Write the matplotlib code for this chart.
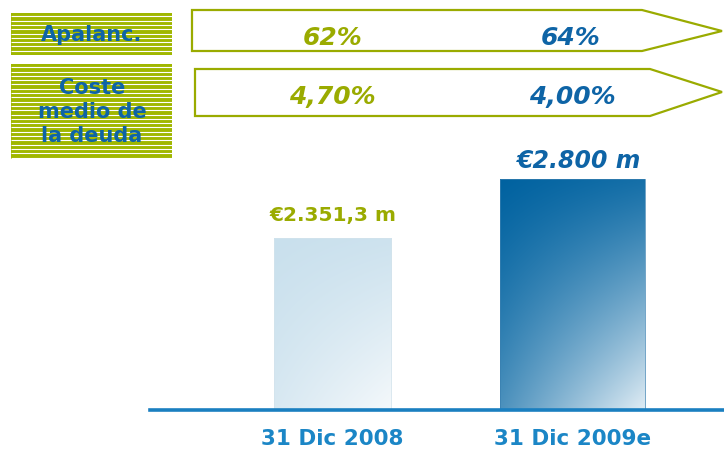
import numpy as np
import matplotlib
matplotlib.use("Agg")
import matplotlib.pyplot as plt
from matplotlib.patches import Polygon, Rectangle
from matplotlib.colors import to_rgb

# ---------------- data ----------------
categories = ["31 Dic 2008", "31 Dic 2009e"]
debt_values = [2351.3, 2800.0]
debt_labels = ["€2.351,3 m", "€2.800 m"]
row_titles = ["Apalanc.", "Coste\nmedio de\nla deuda"]
leverage = ["62%", "64%"]
avg_cost = ["4,70%", "4,00%"]

GREEN = "#9aab00"
STRIPE = "#a0b700"
BLUE = "#0e64a6"
XBLUE = "#1b86c6"

W, H = 724, 450
fig = plt.figure(figsize=(W / 100, H / 100), dpi=100)
fig.patch.set_facecolor("white")

# overlay axes in pixel coordinates (decoration)
ov = fig.add_axes([0, 0, 1, 1], zorder=0)
ov.set_xlim(0, W)
ov.set_ylim(H, 0)
ov.axis("off")

# bar axes
left_px, right_px, base_px, top_px = 150, 724, 410, 150
ax = fig.add_axes([left_px / W, (H - base_px) / H, (right_px - left_px) / W,
                   (base_px - top_px) / H], zorder=1)
ax.patch.set_alpha(0)
ax.set_xlim(-0.760, 1.631)
ylo, yhi = 1043, 3020
ax.set_ylim(ylo, yhi)
for s in ["top", "right", "left"]:
    ax.spines[s].set_visible(False)
ax.spines["bottom"].set_color("#1a7fc0")
ax.spines["bottom"].set_linewidth(2.6)
ax.spines["bottom"].set_zorder(5)
ax.set_yticks([])
xs = np.arange(len(categories))
ax.set_xticks(xs, categories)
ax.tick_params(axis="x", length=0, pad=14)
for lab in ax.get_xticklabels():
    lab.set_fontsize(15.5)
    lab.set_fontweight("bold")
    lab.set_color(XBLUE)

widths = [0.49, 0.60]
bars = ax.bar(xs, debt_values, width=widths, color="none", edgecolor="none", zorder=2)


def grad(light, dark, n=240):
    u = np.linspace(0, 1, n)[None, :]
    v = np.linspace(1, 0, n)[:, None]
    A = 0.32 * (1 - v) ** 1.2
    B = 0.09 + 0.54 * (1 - v) ** 1.1
    d = np.clip(1 - A - B * u, 0, 1)[..., None]
    l = np.array(to_rgb(light))
    k = np.array(to_rgb(dark))
    return l * (1 - d) + k * d


styles = [("#f7fafc", "#c9e0ed", "#d3e3ec"), ("#ecf4f9", "#0062a0", "#3a80b0")]
for b, (lc, dc, ec) in zip(bars, styles):
    x0 = b.get_x()
    x1 = x0 + b.get_width()
    im = ax.imshow(grad(lc, dc), extent=[x0, x1, ylo, b.get_height()],
                   aspect="auto", zorder=2, interpolation="bilinear")
    im.set_clip_path(b)
    ax.add_patch(Rectangle((x0, ylo), b.get_width(), b.get_height() - ylo,
                           fill=False, edgecolor=ec, lw=0.5, zorder=3))
ax.set_xlim(-0.760, 1.631)
ax.set_ylim(ylo, yhi)

label_cfg = [(GREEN, "normal", 14.5, 0, 9.5), (BLUE, "italic", 17, 5, 4)]
for b, txt, (c, st, fs, dx, off) in zip(bars, debt_labels, label_cfg):
    ax.annotate(txt, (b.get_x() + b.get_width() / 2, b.get_height()),
                xytext=(dx, off), textcoords="offset points", ha="center",
                va="bottom", color=c, fontsize=fs, fontweight="bold",
                fontstyle=st, zorder=4)

# ------------- top rows -------------
def stripes(x0, y0, x1, y1):
    ov.add_patch(Rectangle((x0, y0), x1 - x0, y1 - y0, facecolor=STRIPE,
                           edgecolor="none"))
    for y in np.arange(y0 + 3.3, y1 - 1, 4.3):
        ov.plot([x0, x1], [y, y], color="white", lw=0.8, solid_capstyle="butt")


stripes(11, 13, 172, 55)
stripes(11, 64, 172, 159)
ov.text(92, 35, row_titles[0], ha="center", va="center", color=BLUE,
        fontsize=15, fontweight="bold")
ov.text(92, 112, row_titles[1], ha="center", va="center", color=BLUE,
        fontsize=15, fontweight="bold", linespacing=1.25, multialignment="center")

ov.add_patch(Polygon([(192, 10), (642, 10), (722, 31), (642, 51), (192, 51)],
                     closed=True, fill=False, edgecolor=GREEN, lw=1.6))
ov.add_patch(Polygon([(195, 69), (650, 69), (722, 92), (650, 116), (195, 116)],
                     closed=True, fill=False, edgecolor=GREEN, lw=1.6))

# x positions of columns from bar axis
to_ov = ov.transData.inverted()
cols = [to_ov.transform(ax.transData.transform((x, ylo)))[0] for x in xs]
row_colors = [GREEN, BLUE]
for i, x in enumerate(cols):
    ov.text(x - 2 * i, 38, leverage[i], ha="center", va="center",
            color=row_colors[i], fontsize=18, fontweight="bold", fontstyle="italic")
    ov.text(x, 97, avg_cost[i], ha="center", va="center",
            color=row_colors[i], fontsize=18, fontweight="bold", fontstyle="italic")

fig.savefig("out.png", dpi=100, facecolor="white")
